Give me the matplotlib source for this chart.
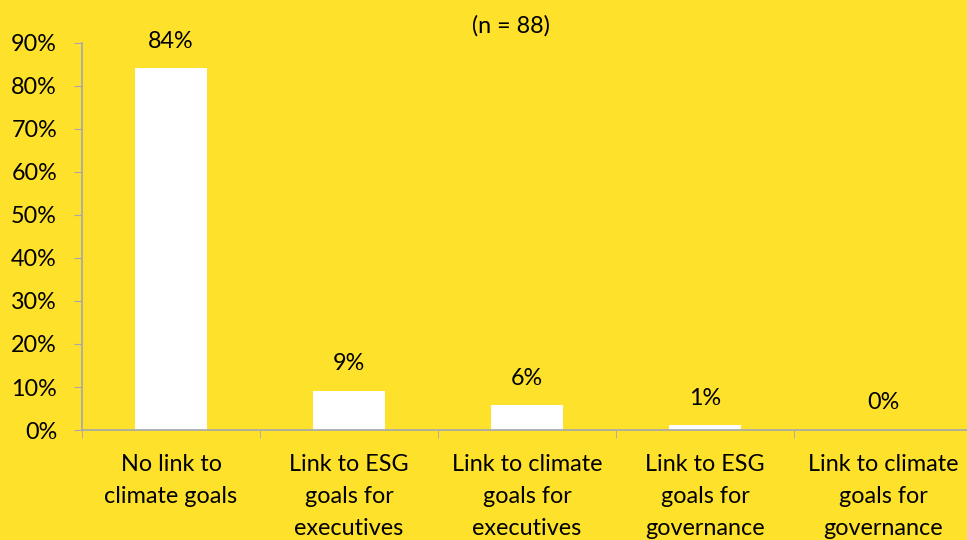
import matplotlib
matplotlib.use("Agg")
import matplotlib.pyplot as plt
from matplotlib.ticker import FuncFormatter

categories = ["No link to\nclimate goals",
              "Link to ESG\ngoals for\nexecutives",
              "Link to climate\ngoals for\nexecutives",
              "Link to ESG\ngoals for\ngovernance",
              "Link to climate\ngoals for\ngovernance"]
values = [84.1, 9.1, 5.7, 1.1, 0.0]
labels = ["84%", "9%", "6%", "1%", "0%"]
note = "(n = 88)"

bg = "#FEE12B"
axis_col = "#A6A6AE"
fs = 16.8

plt.rcParams['font.family'] = ['Lato', 'DejaVu Sans']

fig = plt.figure(figsize=(9.67, 5.40), dpi=100, facecolor=bg)
ax = fig.add_axes([0.0848, 0.2037, 0.9205, 0.7167])
ax.set_facecolor(bg)

x = list(range(len(categories)))
ax.bar(x, values, width=0.4, color="white", zorder=2)

for xi, v, lab in zip(x, values, labels):
    ax.annotate(lab, (xi, v), xytext=(0, 19.5), textcoords="offset points",
                ha="center", va="center", fontsize=fs, color="black")

ax.set_xlim(-0.5, len(categories) - 0.5)
ax.set_ylim(0, 90)
ax.set_yticks(range(0, 91, 10))
ax.yaxis.set_major_formatter(FuncFormatter(lambda v, p: f"{int(v)}%"))

ax.set_xticks(x)
ax.set_xticklabels(categories, fontsize=fs, linespacing=1.67)
ax.set_xticks([i - 0.5 for i in range(len(categories) + 1)], minor=True)
ax.tick_params(axis="x", which="major", length=0, pad=17)
ax.tick_params(axis="x", which="minor", length=6, color=axis_col, direction="out")
ax.tick_params(axis="y", length=6, color=axis_col, direction="out", labelsize=fs, pad=12)

for s in ["top", "right"]:
    ax.spines[s].set_visible(False)
for s in ["left", "bottom"]:
    ax.spines[s].set_color(axis_col)
    ax.spines[s].set_linewidth(1.2)

fig.text(0.528, 0.953, note, ha="center", va="center", fontsize=fs)

fig.savefig("out.png", dpi=100, facecolor=bg)
